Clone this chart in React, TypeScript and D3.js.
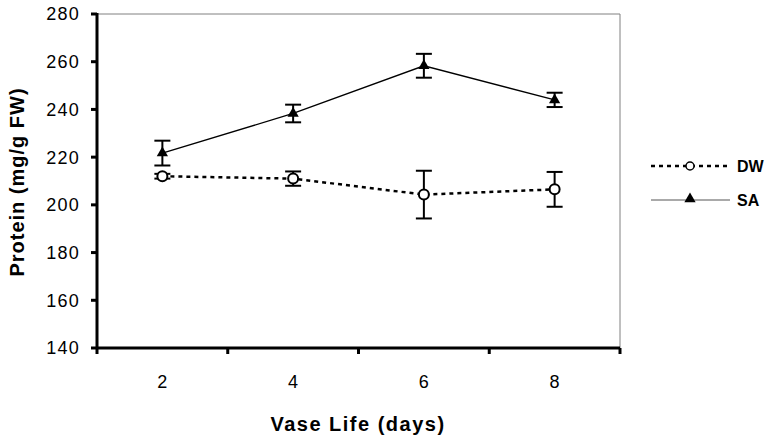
import * as d3 from "d3";

// vase life days (categories)
const days = ["2", "4", "6", "8"];
// DW series (mean, +/- error)
const dwMean = [212, 211, 204.3, 206.5];
const dwErr = [1, 3, 10, 7.3];
// SA series (mean, +/- error)
const saMean = [221.7, 238.3, 258.3, 244];
const saErr = [5.2, 3.7, 5, 3];
const yTicks = [140, 160, 180, 200, 220, 240, 260, 280];

const W = 771;
const H = 439;
const font = "'Liberation Sans', Arial, Helvetica, sans-serif";

const App = () => {
  const margin = { top: 14, right: 151, bottom: 91, left: 97 };
  const x = d3
    .scaleBand()
    .domain(days)
    .range([margin.left, W - margin.right])
    .padding(0);
  const y = d3
    .scaleLinear()
    .domain([140, 280])
    .range([H - margin.bottom, margin.top]);

  const cx = (d: string) => (x(d) as number) + x.bandwidth() / 2;
  const x0 = margin.left;
  const x1 = W - margin.right;
  const y0 = H - margin.bottom;
  const y1 = margin.top;

  const line = d3
    .line<number>()
    .x((_, i) => cx(days[i]))
    .y((v) => y(v));

  const tri = d3.symbol().type(d3.symbolTriangle).size(55)();

  const errBars = (means: number[], errs: number[], key: string) =>
    means.map((m, i) => {
      const px = cx(days[i]);
      const top = y(m + errs[i]);
      const bot = y(m - errs[i]);
      return (
        <g key={key + i} stroke="#000" strokeWidth={2}>
          <line x1={px} x2={px} y1={top} y2={bot} />
          <line x1={px - 8} x2={px + 8} y1={top} y2={top} />
          <line x1={px - 8} x2={px + 8} y1={bot} y2={bot} />
        </g>
      );
    });

  const bandEdges = days.map((d) => x(d) as number).concat([x1]);

  return (
    <svg
      width={W}
      height={H}
      style={{ position: "absolute", left: 0, top: 0, background: "#fff" }}
      fontFamily={font}
    >
      <rect width={W} height={H} fill="#fff" />
      {/* plot frame (top/right) */}
      <line x1={x0} x2={x1} y1={y1} y2={y1} stroke="#808080" strokeWidth={1} />
      <line x1={x1} x2={x1} y1={y1} y2={y0} stroke="#808080" strokeWidth={1} />

      {/* y axis */}
      <line x1={x0} x2={x0} y1={y1 - 1} y2={y0 + 1} stroke="#000" strokeWidth={3} />
      {yTicks.map((t) => (
        <g key={"yt" + t}>
          <line x1={x0 - 6} x2={x0} y1={y(t)} y2={y(t)} stroke="#000" strokeWidth={3} />
          <text
            x={80}
            y={y(t)}
            dy="0.36em"
            textAnchor="end"
            fontSize={18}
            letterSpacing={1.2}
            fill="#000"
          >
            {t}
          </text>
        </g>
      ))}

      {/* x axis */}
      <line x1={x0 - 1} x2={x1} y1={y0} y2={y0} stroke="#000" strokeWidth={3} />
      {bandEdges.map((e, i) => (
        <line key={"xt" + i} x1={e} x2={e} y1={y0} y2={y0 + 6} stroke="#000" strokeWidth={3} />
      ))}
      {days.map((d) => (
        <text
          key={"xl" + d}
          x={cx(d)}
          y={388}
          textAnchor="middle"
          fontSize={18}
          fill="#000"
        >
          {d}
        </text>
      ))}

      {/* axis titles */}
      <text
        x={358}
        y={431}
        textAnchor="middle"
        fontSize={20}
        fontWeight="bold"
        letterSpacing={1.5}
        fill="#000"
      >
        Vase Life (days)
      </text>
      <text
        transform={`translate(24,182) rotate(-90)`}
        textAnchor="middle"
        fontSize={20}
        fontWeight="bold"
        letterSpacing={1}
        fill="#000"
      >
        Protein (mg/g FW)
      </text>

      {/* DW series */}
      <path
        d={line(dwMean) as string}
        fill="none"
        stroke="#000"
        strokeWidth={2.5}
        strokeDasharray="4,4"
      />
      {errBars(dwMean, dwErr, "dw")}
      {dwMean.map((m, i) => (
        <circle
          key={"dwc" + i}
          cx={cx(days[i])}
          cy={y(m)}
          r={5}
          fill="#fff"
          stroke="#000"
          strokeWidth={2}
        />
      ))}

      {/* SA series */}
      <path d={line(saMean) as string} fill="none" stroke="#000" strokeWidth={1.3} />
      {errBars(saMean, saErr, "sa")}
      {saMean.map((m, i) => (
        <path
          key={"sat" + i}
          d={tri as string}
          transform={`translate(${cx(days[i])},${y(m)})`}
          fill="#000"
        />
      ))}

      {/* legend */}
      <g>
        <line x1={651} x2={730} y1={166} y2={166} stroke="#000" strokeWidth={2.5} strokeDasharray="4,4" />
        <circle cx={690} cy={166} r={4} fill="#fff" stroke="#000" strokeWidth={1.5} />
        <text x={737} y={166} dy="0.36em" fontSize={16} fontWeight="bold" fill="#000">
          DW
        </text>
        <line x1={651} x2={730} y1={200} y2={200} stroke="#555" strokeWidth={1} />
        <path d={tri as string} transform="translate(690,199)" fill="#000" />
        <text x={737} y={200} dy="0.36em" fontSize={16} fontWeight="bold" fill="#000">
          SA
        </text>
      </g>
    </svg>
  );
};

export default App;
